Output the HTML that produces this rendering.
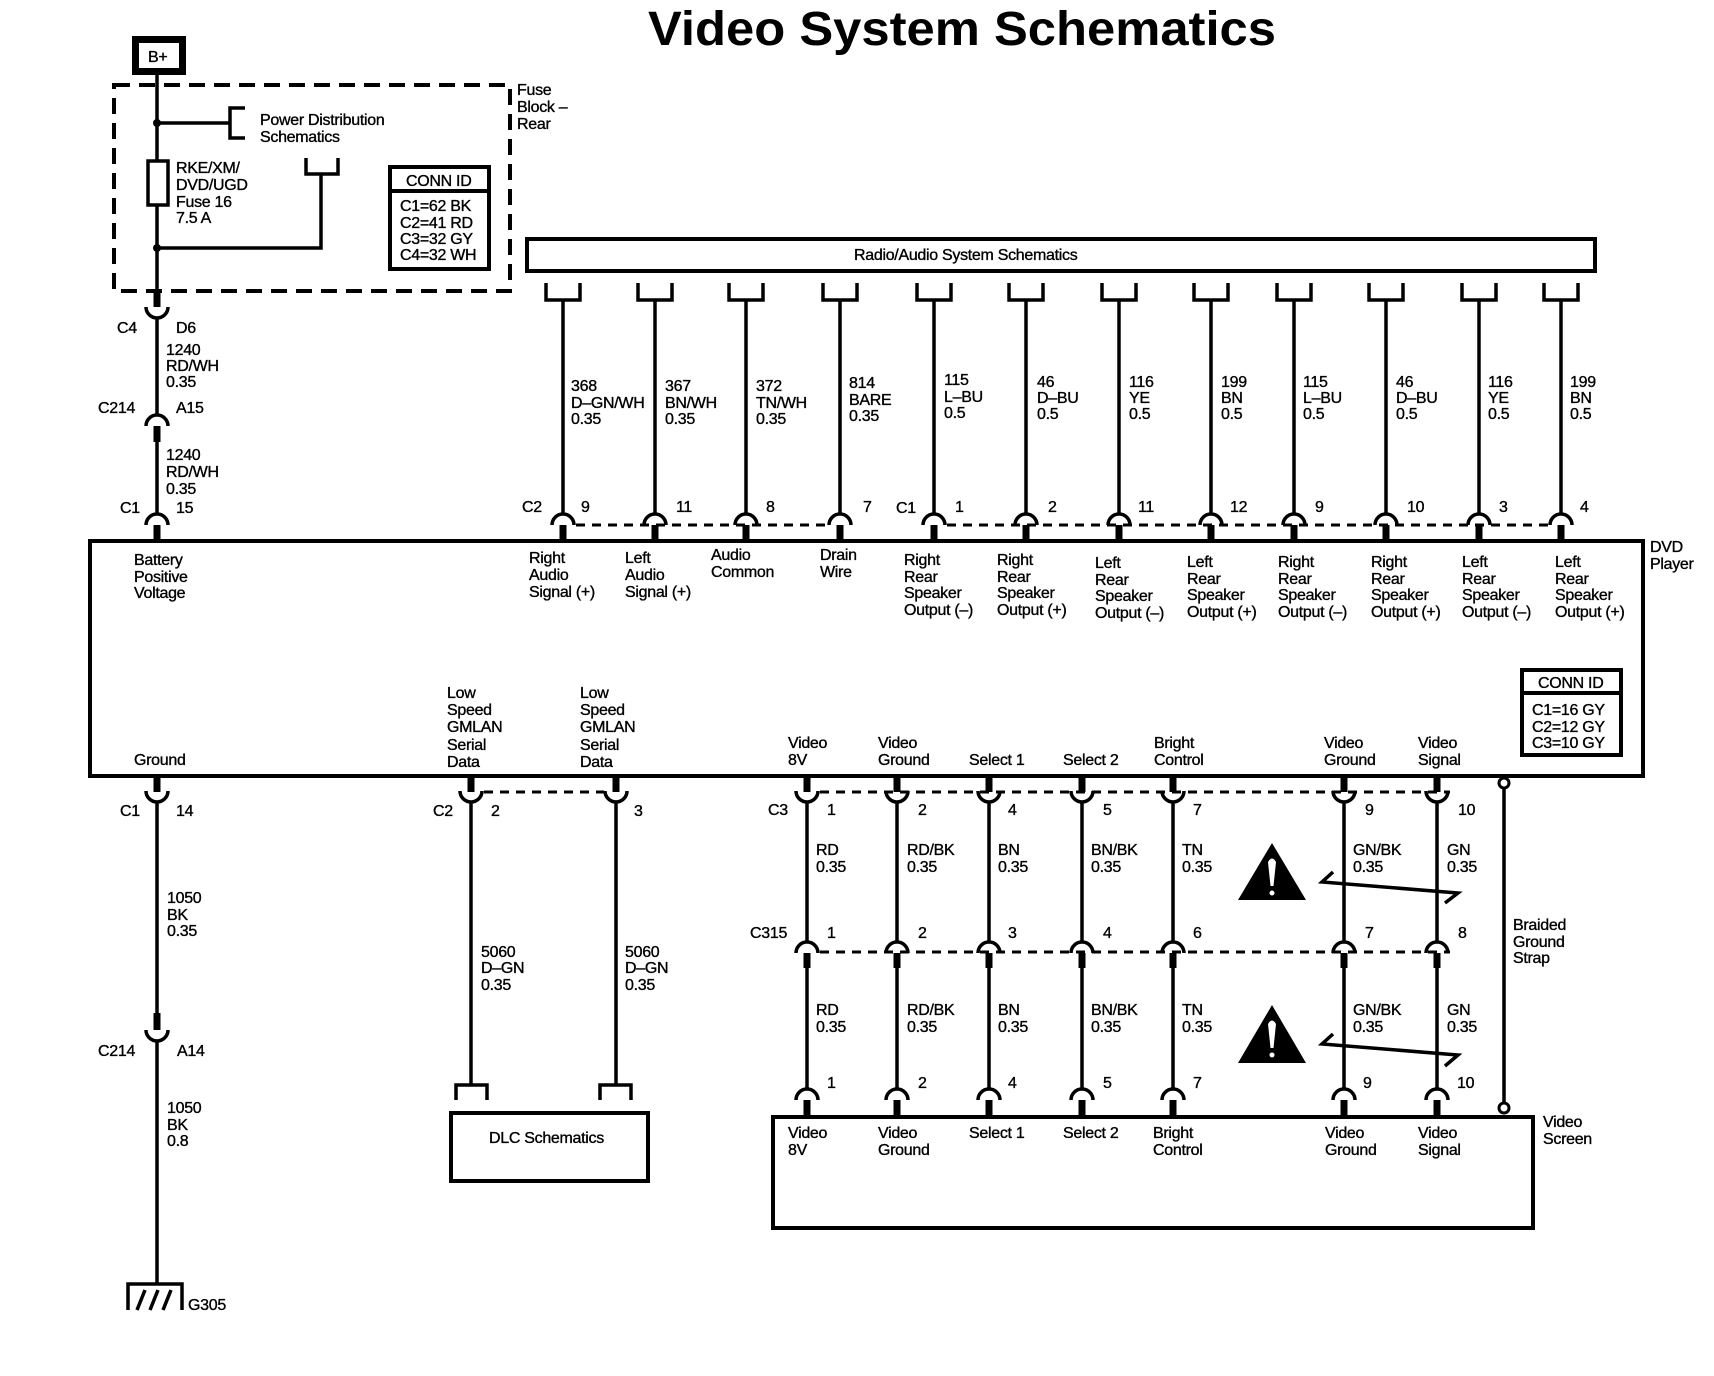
<!DOCTYPE html>
<html><head><meta charset="utf-8"><style>
html,body{margin:0;padding:0;background:#fff}
svg{display:block}
text{font-family:"Liberation Sans",Arial,sans-serif;font-size:16px;fill:#000;letter-spacing:-0.3px;stroke:#000;stroke-width:0.35px}
.w{stroke:#000;stroke-width:3.5;fill:none}
.b{stroke:#000;stroke-width:4;fill:none}
.d{stroke:#000;stroke-width:3;fill:none;stroke-dasharray:9 7}
.a{stroke:#000;stroke-width:3.5;fill:none}
</style></head><body>
<svg width="1714" height="1376" viewBox="0 0 1714 1376" xmlns="http://www.w3.org/2000/svg">
<text x="648" y="45" style="font-size:48px;font-weight:bold;letter-spacing:0;stroke-width:0" textLength="628" lengthAdjust="spacingAndGlyphs">Video System Schematics</text>

<!-- B+ -->
<rect x="135.5" y="39.5" width="47" height="32" stroke="#000" stroke-width="7" fill="#fff"/>
<text x="148" y="62">B+</text>
<!-- dashed fuse block -->
<rect x="114" y="85" width="396" height="206" fill="none" stroke="#000" stroke-width="4" stroke-dasharray="16 9"/>
<text x="517" y="95">Fuse</text><text x="517" y="112">Block –</text><text x="517" y="129">Rear</text>
<line class="w" x1="157" y1="75" x2="157" y2="161"/>
<line class="w" x1="157" y1="205" x2="157" y2="291"/>
<rect x="148" y="161" width="20" height="44" fill="#fff" stroke="#000" stroke-width="3.5"/>
<circle cx="157" cy="123" r="4"/><circle cx="157" cy="248" r="4"/>
<line class="w" x1="157" y1="123" x2="230" y2="123"/>
<path class="w" d="M245 108 H230 V138 H245"/>
<text x="260" y="125">Power Distribution</text><text x="260" y="142">Schematics</text>
<text x="176" y="173">RKE/XM/</text><text x="176" y="190">DVD/UGD</text><text x="176" y="207">Fuse 16</text><text x="176" y="223">7.5 A</text>
<path class="w" d="M157 248 H321 V174"/>
<path class="w" d="M306 158 V174 H338 V158"/>
<rect x="390" y="167" width="99" height="102" class="b"/>
<line class="b" x1="390" y1="191" x2="489" y2="191"/>
<text x="406" y="186">CONN ID</text>
<text x="400" y="211">C1=62 BK</text><text x="400" y="228">C2=41 RD</text><text x="400" y="244">C3=32 GY</text><text x="400" y="260">C4=32 WH</text>

<!-- battery wire -->
<rect x="153.5" y="291" width="7" height="16"/>
<path class="a" d="M146 307 A11 11 0 0 0 168 307"/>
<line class="w" x1="157" y1="318" x2="157" y2="415"/>
<text x="117" y="333">C4</text><text x="176" y="333">D6</text>
<text x="166" y="355">1240</text><text x="166" y="371">RD/WH</text><text x="166" y="387">0.35</text>
<text x="98" y="413">C214</text><text x="176" y="413">A15</text>
<path class="a" d="M146 426 A11 11 0 0 1 168 426"/>
<rect x="153.5" y="426" width="7" height="16"/>
<line class="w" x1="157" y1="442" x2="157" y2="514"/>
<path class="a" d="M146 525 A11 11 0 0 1 168 525"/>
<rect x="153.5" y="525" width="7" height="16"/>
<text x="166" y="460">1240</text><text x="166" y="477">RD/WH</text><text x="166" y="494">0.35</text>
<text x="120" y="513">C1</text><text x="176" y="513">15</text>

<!-- radio box -->
<rect x="527" y="239" width="1068" height="32" class="b"/>
<text x="854" y="260">Radio/Audio System Schematics</text>

<!-- top wires -->
<g id="tops">
<path class="w" d="M546 283 V300 H580 V283 M563 300 V514"/>
<path class="w" d="M638 283 V300 H672 V283 M655 300 V514"/>
<path class="w" d="M729 283 V300 H763 V283 M746 300 V514"/>
<path class="w" d="M823 283 V300 H857 V283 M840 300 V514"/>
<path class="w" d="M917 283 V300 H951 V283 M934 300 V514"/>
<path class="w" d="M1009 283 V300 H1043 V283 M1026 300 V514"/>
<path class="w" d="M1102 283 V300 H1136 V283 M1119 300 V514"/>
<path class="w" d="M1194 283 V300 H1228 V283 M1211 300 V514"/>
<path class="w" d="M1277 283 V300 H1311 V283 M1294 300 V514"/>
<path class="w" d="M1369 283 V300 H1403 V283 M1386 300 V514"/>
<path class="w" d="M1462 283 V300 H1496 V283 M1479 300 V514"/>
<path class="w" d="M1544 283 V300 H1578 V283 M1561 300 V514"/>
</g>
<g>
<path class="a" d="M552 525 A11 11 0 0 1 574 525 M644 525 A11 11 0 0 1 666 525 M735 525 A11 11 0 0 1 757 525 M829 525 A11 11 0 0 1 851 525 M923 525 A11 11 0 0 1 945 525 M1015 525 A11 11 0 0 1 1037 525 M1108 525 A11 11 0 0 1 1130 525 M1200 525 A11 11 0 0 1 1222 525 M1283 525 A11 11 0 0 1 1305 525 M1375 525 A11 11 0 0 1 1397 525 M1468 525 A11 11 0 0 1 1490 525 M1550 525 A11 11 0 0 1 1572 525"/>
<path fill="#000" d="M559.5 525h7v16h-7zM651.5 525h7v16h-7zM742.5 525h7v16h-7zM836.5 525h7v16h-7zM930.5 525h7v16h-7zM1022.5 525h7v16h-7zM1115.5 525h7v16h-7zM1207.5 525h7v16h-7zM1290.5 525h7v16h-7zM1382.5 525h7v16h-7zM1475.5 525h7v16h-7zM1557.5 525h7v16h-7z"/>
<line class="d" x1="576" y1="525" x2="828" y2="525"/>
<line class="d" x1="947" y1="525" x2="1549" y2="525"/>
</g>
<text x="571" y="391">368</text><text x="571" y="408">D–GN/WH</text><text x="571" y="424">0.35</text>
<text x="665" y="391">367</text><text x="665" y="408">BN/WH</text><text x="665" y="424">0.35</text>
<text x="756" y="391">372</text><text x="756" y="408">TN/WH</text><text x="756" y="424">0.35</text>
<text x="849" y="388">814</text><text x="849" y="405">BARE</text><text x="849" y="421">0.35</text>
<text x="944" y="385">115</text><text x="944" y="402">L–BU</text><text x="944" y="418">0.5</text>
<text x="1037" y="387">46</text><text x="1037" y="403">D–BU</text><text x="1037" y="419">0.5</text>
<text x="1129" y="387">116</text><text x="1129" y="403">YE</text><text x="1129" y="419">0.5</text>
<text x="1221" y="387">199</text><text x="1221" y="403">BN</text><text x="1221" y="419">0.5</text>
<text x="1303" y="387">115</text><text x="1303" y="403">L–BU</text><text x="1303" y="419">0.5</text>
<text x="1396" y="387">46</text><text x="1396" y="403">D–BU</text><text x="1396" y="419">0.5</text>
<text x="1488" y="387">116</text><text x="1488" y="403">YE</text><text x="1488" y="419">0.5</text>
<text x="1570" y="387">199</text><text x="1570" y="403">BN</text><text x="1570" y="419">0.5</text>
<text x="522" y="512">C2</text><text x="581" y="512">9</text><text x="676" y="512">11</text><text x="766" y="512">8</text><text x="863" y="512">7</text>
<text x="896" y="513">C1</text><text x="955" y="512">1</text><text x="1048" y="512">2</text><text x="1138" y="512">11</text><text x="1230" y="512">12</text><text x="1315" y="512">9</text><text x="1407" y="512">10</text><text x="1499" y="512">3</text><text x="1580" y="512">4</text>

<!-- DVD box -->
<rect x="90" y="541" width="1553" height="235" class="b"/>
<text x="1650" y="552">DVD</text><text x="1650" y="569">Player</text>
<text x="134" y="565">Battery</text><text x="134" y="582">Positive</text><text x="134" y="598">Voltage</text>
<text x="529" y="563">Right</text><text x="529" y="580">Audio</text><text x="529" y="597">Signal (+)</text>
<text x="625" y="563">Left</text><text x="625" y="580">Audio</text><text x="625" y="597">Signal (+)</text>
<text x="711" y="560">Audio</text><text x="711" y="577">Common</text>
<text x="820" y="560">Drain</text><text x="820" y="577">Wire</text>
<g>
<text x="904" y="565">Right</text><text x="904" y="582">Rear</text><text x="904" y="598">Speaker</text><text x="904" y="615">Output (–)</text>
<text x="997" y="565">Right</text><text x="997" y="582">Rear</text><text x="997" y="598">Speaker</text><text x="997" y="615">Output (+)</text>
<text x="1095" y="568">Left</text><text x="1095" y="585">Rear</text><text x="1095" y="601">Speaker</text><text x="1095" y="618">Output (–)</text>
<text x="1187" y="567">Left</text><text x="1187" y="584">Rear</text><text x="1187" y="600">Speaker</text><text x="1187" y="617">Output (+)</text>
<text x="1278" y="567">Right</text><text x="1278" y="584">Rear</text><text x="1278" y="600">Speaker</text><text x="1278" y="617">Output (–)</text>
<text x="1371" y="567">Right</text><text x="1371" y="584">Rear</text><text x="1371" y="600">Speaker</text><text x="1371" y="617">Output (+)</text>
<text x="1462" y="567">Left</text><text x="1462" y="584">Rear</text><text x="1462" y="600">Speaker</text><text x="1462" y="617">Output (–)</text>
<text x="1555" y="567">Left</text><text x="1555" y="584">Rear</text><text x="1555" y="600">Speaker</text><text x="1555" y="617">Output (+)</text>
</g>
<rect x="1522" y="670" width="99" height="85" class="b"/>
<line class="b" x1="1522" y1="693" x2="1621" y2="693"/>
<text x="1538" y="688">CONN ID</text>
<text x="1532" y="715">C1=16 GY</text><text x="1532" y="732">C2=12 GY</text><text x="1532" y="748">C3=10 GY</text>
<text x="134" y="765">Ground</text>
<text x="447" y="698">Low</text><text x="447" y="715">Speed</text><text x="447" y="732">GMLAN</text><text x="447" y="750">Serial</text><text x="447" y="767">Data</text>
<text x="580" y="698">Low</text><text x="580" y="715">Speed</text><text x="580" y="732">GMLAN</text><text x="580" y="750">Serial</text><text x="580" y="767">Data</text>
<text x="788" y="748">Video</text><text x="788" y="765">8V</text>
<text x="878" y="748">Video</text><text x="878" y="765">Ground</text>
<text x="969" y="765">Select 1</text><text x="1063" y="765">Select 2</text>
<text x="1154" y="748">Bright</text><text x="1154" y="765">Control</text>
<text x="1324" y="748">Video</text><text x="1324" y="765">Ground</text>
<text x="1418" y="748">Video</text><text x="1418" y="765">Signal</text>

<!-- bottom stubs + cups under DVD -->
<path fill="#000" d="M153.5 776h7v16h-7zM467.5 776h7v16h-7zM612.5 776h7v16h-7zM803.5 776h7v16h-7zM893.5 776h7v16h-7zM985.5 776h7v16h-7zM1078.5 776h7v16h-7zM1169.5 776h7v16h-7zM1340.5 776h7v16h-7zM1433.5 776h7v16h-7z"/>
<path class="a" d="M146 791 A11 11 0 0 0 168 791 M460 791 A11 11 0 0 0 482 791 M605 791 A11 11 0 0 0 627 791 M796 791 A11 11 0 0 0 818 791 M886 791 A11 11 0 0 0 908 791 M978 791 A11 11 0 0 0 1000 791 M1071 791 A11 11 0 0 0 1093 791 M1162 791 A11 11 0 0 0 1184 791 M1333 791 A11 11 0 0 0 1355 791 M1426 791 A11 11 0 0 0 1448 791"/>
<line class="d" x1="484" y1="792" x2="604" y2="792"/>
<line class="d" x1="820" y1="792" x2="1450" y2="792"/>

<!-- ground wire -->
<line class="w" x1="157" y1="802" x2="157" y2="1015"/>
<rect x="153.5" y="1013" width="7" height="17"/>
<path class="a" d="M146 1030 A11 11 0 0 0 168 1030"/>
<line class="w" x1="157" y1="1041" x2="157" y2="1284"/>
<text x="120" y="816">C1</text><text x="176" y="816">14</text>
<text x="167" y="903">1050</text><text x="167" y="920">BK</text><text x="167" y="936">0.35</text>
<text x="98" y="1056">C214</text><text x="177" y="1056">A14</text>
<text x="167" y="1113">1050</text><text x="167" y="1130">BK</text><text x="167" y="1146">0.8</text>
<path class="w" d="M128 1310 V1284 H182 V1310"/>
<path class="w" d="M137 1310 L145 1290 M150 1310 L158 1290 M163 1310 L171 1290"/>
<text x="188" y="1310">G305</text>

<!-- GMLAN -->
<line class="w" x1="471" y1="802" x2="471" y2="1085"/>
<line class="w" x1="616" y1="802" x2="616" y2="1085"/>
<path class="w" d="M456 1100 V1085 H487 V1100 M600 1100 V1085 H631 V1100"/>
<text x="433" y="816">C2</text><text x="491" y="816">2</text><text x="634" y="816">3</text>
<text x="481" y="957">5060</text><text x="481" y="973">D–GN</text><text x="481" y="990">0.35</text>
<text x="625" y="957">5060</text><text x="625" y="973">D–GN</text><text x="625" y="990">0.35</text>
<rect x="451" y="1113" width="197" height="68" class="b"/>
<text x="489" y="1143">DLC Schematics</text>

<!-- video wires -->
<g>
<path class="w" d="M807 802 V941 M897 802 V941 M989 802 V941 M1082 802 V941 M1173 802 V941 M1344 802 V941 M1437 802 V941"/>
<path class="a" d="M796 953 A11 11 0 0 1 818 953 M886 953 A11 11 0 0 1 908 953 M978 953 A11 11 0 0 1 1000 953 M1071 953 A11 11 0 0 1 1093 953 M1162 953 A11 11 0 0 1 1184 953 M1333 953 A11 11 0 0 1 1355 953 M1426 953 A11 11 0 0 1 1448 953"/>
<line class="d" x1="820" y1="952" x2="1450" y2="952"/>
<path fill="#000" d="M803.5 953h7v15h-7zM893.5 953h7v15h-7zM985.5 953h7v15h-7zM1078.5 953h7v15h-7zM1169.5 953h7v15h-7zM1340.5 953h7v15h-7zM1433.5 953h7v15h-7z"/>
<path class="w" d="M807 968 V1089 M897 968 V1089 M989 968 V1089 M1082 968 V1089 M1173 968 V1089 M1344 968 V1089 M1437 968 V1089"/>
<path class="a" d="M796 1100 A11 11 0 0 1 818 1100 M886 1100 A11 11 0 0 1 908 1100 M978 1100 A11 11 0 0 1 1000 1100 M1071 1100 A11 11 0 0 1 1093 1100 M1162 1100 A11 11 0 0 1 1184 1100 M1333 1100 A11 11 0 0 1 1355 1100 M1426 1100 A11 11 0 0 1 1448 1100"/>
<path fill="#000" d="M803.5 1100h7v17h-7zM893.5 1100h7v17h-7zM985.5 1100h7v17h-7zM1078.5 1100h7v17h-7zM1169.5 1100h7v17h-7zM1340.5 1100h7v17h-7zM1433.5 1100h7v17h-7z"/>
</g>
<text x="768" y="815">C3</text>
<text x="827" y="815">1</text><text x="918" y="815">2</text><text x="1008" y="815">4</text><text x="1103" y="815">5</text><text x="1193" y="815">7</text><text x="1365" y="815">9</text><text x="1458" y="815">10</text>
<text x="750" y="938">C315</text>
<text x="827" y="938">1</text><text x="918" y="938">2</text><text x="1008" y="938">3</text><text x="1103" y="938">4</text><text x="1193" y="938">6</text><text x="1365" y="938">7</text><text x="1458" y="938">8</text>
<text x="827" y="1088">1</text><text x="918" y="1088">2</text><text x="1008" y="1088">4</text><text x="1103" y="1088">5</text><text x="1193" y="1088">7</text><text x="1363" y="1088">9</text><text x="1457" y="1088">10</text>
<g>
<text x="816" y="855">RD</text><text x="816" y="872">0.35</text>
<text x="907" y="855">RD/BK</text><text x="907" y="872">0.35</text>
<text x="998" y="855">BN</text><text x="998" y="872">0.35</text>
<text x="1091" y="855">BN/BK</text><text x="1091" y="872">0.35</text>
<text x="1182" y="855">TN</text><text x="1182" y="872">0.35</text>
<text x="1353" y="855">GN/BK</text><text x="1353" y="872">0.35</text>
<text x="1447" y="855">GN</text><text x="1447" y="872">0.35</text>
<text x="816" y="1015">RD</text><text x="816" y="1032">0.35</text>
<text x="907" y="1015">RD/BK</text><text x="907" y="1032">0.35</text>
<text x="998" y="1015">BN</text><text x="998" y="1032">0.35</text>
<text x="1091" y="1015">BN/BK</text><text x="1091" y="1032">0.35</text>
<text x="1182" y="1015">TN</text><text x="1182" y="1032">0.35</text>
<text x="1353" y="1015">GN/BK</text><text x="1353" y="1032">0.35</text>
<text x="1447" y="1015">GN</text><text x="1447" y="1032">0.35</text>
</g>
<!-- twisted pair marks -->
<path class="w" d="M1333 872 L1322 882 L1458 893 L1445 903"/>
<path class="w" d="M1333 1034 L1322 1044 L1458 1055 L1445 1066"/>
<!-- warning triangles -->
<polygon points="1272,843 1238,900 1306,900"/>
<path fill="#fff" d="M1268 862 Q1272 855 1276 862 L1273.5 886 L1270.5 886 Z"/><circle cx="1272" cy="893" r="2.5" fill="#fff"/>
<polygon points="1272,1005 1238,1063 1306,1063"/>
<path fill="#fff" d="M1268 1024 Q1272 1017 1276 1024 L1273.5 1048 L1270.5 1048 Z"/><circle cx="1272" cy="1055" r="2.5" fill="#fff"/>
<!-- braided strap -->
<line class="w" x1="1504" y1="788" x2="1504" y2="1103"/>
<circle cx="1504" cy="783" r="5" fill="#fff" stroke="#000" stroke-width="3"/>
<circle cx="1504" cy="1108" r="5" fill="#fff" stroke="#000" stroke-width="3"/>
<text x="1513" y="930">Braided</text><text x="1513" y="947">Ground</text><text x="1513" y="963">Strap</text>
<!-- video screen -->
<rect x="773" y="1117" width="760" height="111" class="b"/>
<text x="1543" y="1127">Video</text><text x="1543" y="1144">Screen</text>
<text x="788" y="1138">Video</text><text x="788" y="1155">8V</text>
<text x="878" y="1138">Video</text><text x="878" y="1155">Ground</text>
<text x="969" y="1138">Select 1</text><text x="1063" y="1138">Select 2</text>
<text x="1153" y="1138">Bright</text><text x="1153" y="1155">Control</text>
<text x="1325" y="1138">Video</text><text x="1325" y="1155">Ground</text>
<text x="1418" y="1138">Video</text><text x="1418" y="1155">Signal</text>
</svg>
</body></html>
